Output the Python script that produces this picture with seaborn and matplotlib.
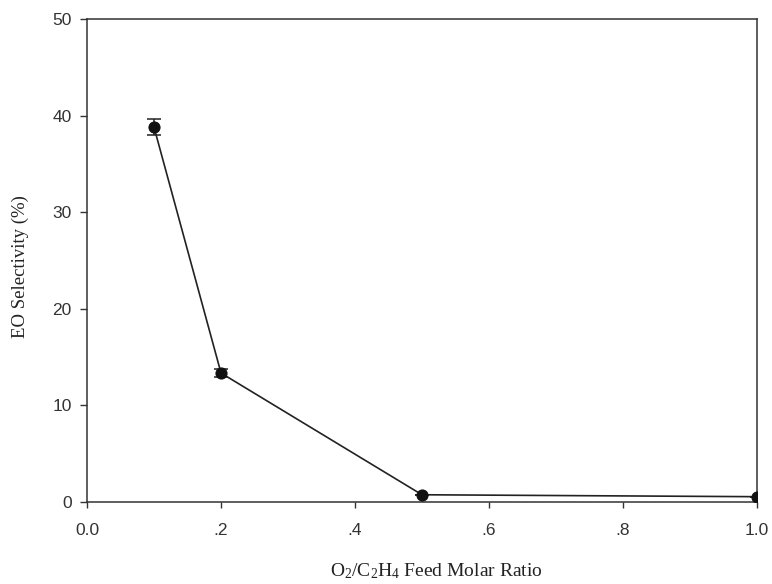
import matplotlib
matplotlib.use("Agg")
import matplotlib.pyplot as plt
import seaborn as sns
import pandas as pd

ratio = [0.1, 0.2, 0.5, 1.0]
selectivity = [38.8, 13.35, 0.75, 0.55]
err = [0.85, 0.45, 0.0, 0.0]
xticks = [0.0, 0.2, 0.4, 0.6, 0.8, 1.0]
xticklabels = ["0.0", ".2", ".4", ".6", ".8", "1.0"]
yticks = [0, 10, 20, 30, 40, 50]

sns.set_style("ticks")
plt.rcParams["mathtext.fontset"] = "custom"
plt.rcParams["mathtext.rm"] = "Liberation Serif"
plt.rcParams["mathtext.it"] = "Liberation Serif:italic"
plt.rcParams["mathtext.bf"] = "Liberation Serif:bold"

df = pd.DataFrame({"ratio": ratio, "sel": selectivity})

fig = plt.figure(figsize=(7.72, 5.84), dpi=100)
ax = fig.add_axes([0.1127, 0.1404, 0.8679, 0.8271])

ax.errorbar(ratio, selectivity, yerr=err, fmt="none", ecolor="#222222",
            elinewidth=1.1, capsize=5, capthick=1.1, zorder=2)
sns.lineplot(data=df, x="ratio", y="sel", ax=ax, color="#222222", linewidth=1.2,
             marker="o", markersize=8, markerfacecolor="#111111",
             markeredgecolor="#111111", zorder=3)

ax.set_xlim(0, 1.0)
ax.set_ylim(0, 50)
ax.set_xticks(xticks)
ax.set_xticklabels(xticklabels)
ax.set_yticks(yticks)
for s in ax.spines.values():
    s.set_visible(True)
    s.set_linewidth(1.1)
    s.set_color("#333333")
ax.tick_params(direction="out", width=1.0, color="#333333",
               labelsize=12.5, labelcolor="#333333")
ax.tick_params(axis="x", length=4, pad=11)
ax.tick_params(axis="y", length=5, pad=6)
for lab in ax.get_xticklabels() + ax.get_yticklabels():
    lab.set_fontfamily("Liberation Sans")

ax.set_xlabel(r"O$_2$/C$_2$H$_4$ Feed Molar Ratio", fontfamily="Liberation Serif",
              fontsize=14, color="#222222")
ax.set_ylabel("EO Selectivity (%)", fontfamily="Liberation Serif",
              fontsize=13.5, color="#222222")
ax.xaxis.set_label_coords(0.522, -0.122)
ax.yaxis.set_label_coords(-0.087, 0.487)

fig.savefig("out.png", dpi=100)
